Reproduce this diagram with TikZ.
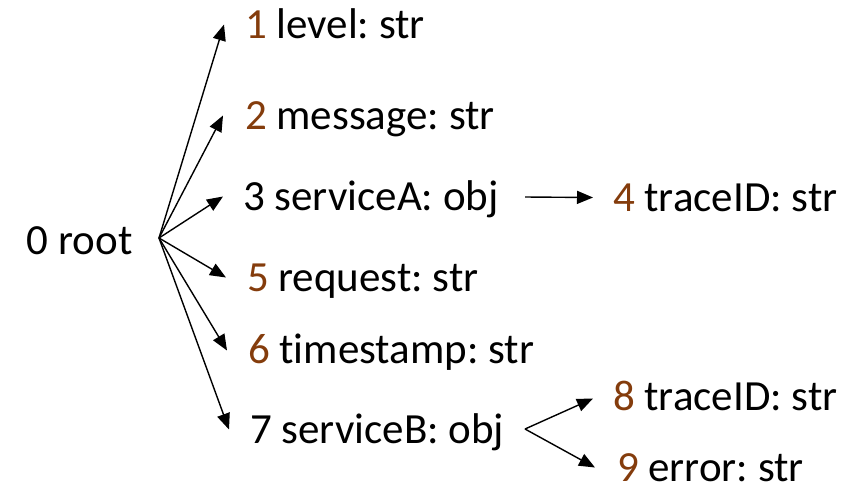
\documentclass[tikz,border=0pt]{standalone}
\usepackage{fontspec}
\setmainfont[Ligatures=NoCommon]{Carlito}
\usetikzlibrary{arrows.meta}
\definecolor{numbrown}{RGB}{132,60,12}
\begin{document}
\frenchspacing
\begin{tikzpicture}[x=1pt,y=-1pt,
  lbl/.style={anchor=base west,inner sep=0pt,outer sep=0pt,text height=27pt,text depth=0pt,font=\fontsize{43}{50}\selectfont},
  arr/.style={line width=1.4pt,-{Triangle[length=16pt,width=13pt]}}]
\useasboundingbox (0,0) rectangle (856,488);
\newcommand{\nb}[1]{\textcolor{numbrown}{#1}}
\node[lbl] (n0) at (27,254) {0 root};
\node[lbl] (n1) at (245,38) {\nb{1} level: str};
\node[lbl] (n2) at (245,129) {\nb{2} message: str};
\node[lbl] (n3) at (243,210) {3 serviceA: obj};
\node[lbl] (n4) at (613,211) {\nb{4} traceID: str};
\node[lbl] (n5) at (247,291) {\nb{5} request: str};
\node[lbl] (n6) at (248,363) {\nb{6} timestamp: str};
\node[lbl] (n7) at (250,443) {7 serviceB: obj};
\node[lbl] (n8) at (613,410) {\nb{8} traceID: str};
\node[lbl] (n9) at (617,481) {\nb{9} error: str};
\coordinate (o) at (159,238);
\coordinate (a3) at (525,197);
\coordinate (a7) at (525,429);
\draw[arr] (o) -- ([xshift=-21pt,yshift=0pt]n1.west);
\draw[arr] (o) -- ([xshift=-22pt]n2.west);
\draw[arr] (o) -- ([xshift=-20pt]n3.west);
\draw[arr] (o) -- ([xshift=-21pt]n5.west);
\draw[arr] (o) -- ([xshift=-21pt,yshift=-1pt]n6.west);
\draw[arr] (o) -- ([xshift=-21pt]n7.west);
\draw[arr] (a3) -- ([xshift=-20pt]n4.west);
\draw[arr] (a7) -- ([xshift=-20pt,yshift=-2pt]n8.west);
\draw[arr] (a7) -- ([xshift=-22pt]n9.west);
\end{tikzpicture}
\end{document}
